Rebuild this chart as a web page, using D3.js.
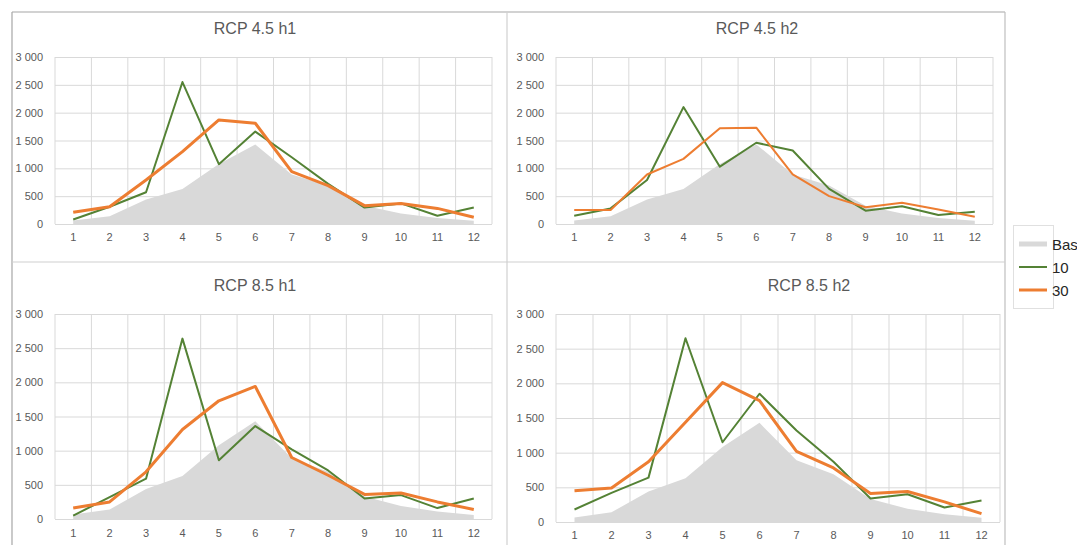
<!DOCTYPE html>
<html>
<head>
<meta charset="utf-8">
<script src="https://cdn.jsdelivr.net/npm/d3@7"></script>
<style>
  html, body { margin: 0; padding: 0; background: #fff; overflow: hidden; }
  svg { display: block; font-family: "Liberation Sans", Arial, sans-serif; }
</style>
</head>
<body>
<svg id="chart" width="1077" height="545"></svg>
<script>
// ---- data ----
const months = [1, 2, 3, 4, 5, 6, 7, 8, 9, 10, 11, 12];
const yTicks = [0, 500, 1000, 1500, 2000, 2500, 3000];
const seriesNames = ["Baseline", "10", "30"];
const panelTitles = ["RCP 4.5 h1", "RCP 4.5 h2", "RCP 8.5 h1", "RCP 8.5 h2"];

const baseline = [65, 140, 440, 630, 1080, 1430, 890, 690, 330, 190, 110, 60];

const rcp45h1_10 = [80, 310, 570, 2550, 1075, 1660, 1200, 720, 295, 370, 148, 295];
const rcp45h1_30 = [210, 310, 790, 1300, 1870, 1810, 940, 690, 330, 370, 280, 120];

const rcp45h2_10 = [150, 280, 790, 2100, 1030, 1460, 1320, 630, 240, 320, 160, 220];
const rcp45h2_30 = [250, 250, 890, 1170, 1720, 1730, 890, 500, 300, 380, 260, 130];

const rcp85h1_10 = [50, 320, 590, 2640, 860, 1360, 1020, 710, 300, 350, 160, 300];
const rcp85h1_30 = [160, 250, 690, 1310, 1730, 1940, 900, 640, 360, 380, 250, 140];

const rcp85h2_10 = [180, 420, 640, 2650, 1150, 1850, 1320, 870, 340, 400, 210, 310];
const rcp85h2_30 = [450, 490, 870, 1440, 2010, 1750, 1020, 780, 410, 440, 290, 120];

const panelSeries10 = [rcp45h1_10, rcp45h2_10, rcp85h1_10, rcp85h2_10];
const panelSeries30 = [rcp45h1_30, rcp45h2_30, rcp85h1_30, rcp85h2_30];

// ---- layout ----
const colors = { base: "#d9d9d9", s10: "#548235", s30: "#ed7d31" };
const panels = [
  { plot: [55, 57, 492, 224], title: [255, 28], xLab: 241, w30: 3 },
  { plot: [556, 57, 993, 224], title: [757, 28], xLab: 241, w30: 2 },
  { plot: [55, 314, 492, 519], title: [255, 285], xLab: 537, w30: 3 },
  { plot: [556, 314, 1000, 522], title: [809, 285], xLab: 539, w30: 3 }
];

const svg = d3.select("#chart");
const fmt = v => d3.format(",")(v).replace(/,/g, " ");

// panel frames
const frame = svg.append("g");
frame.append("line").attr("x1", 12).attr("x2", 1005).attr("y1", 12).attr("y2", 12).attr("stroke", "#a6a6a6").attr("stroke-width", 1.2);
frame.append("line").attr("x1", 12).attr("x2", 12).attr("y1", 12).attr("y2", 545).attr("stroke", "#a6a6a6").attr("stroke-width", 1.2);
frame.append("line").attr("x1", 1005).attr("x2", 1005).attr("y1", 12).attr("y2", 545).attr("stroke", "#bfbfbf").attr("stroke-width", 1.2);
frame.append("line").attr("x1", 507).attr("x2", 507).attr("y1", 12).attr("y2", 545).attr("stroke", "#d0d0d0").attr("stroke-width", 1.2);
frame.append("line").attr("x1", 12).attr("x2", 1005).attr("y1", 262).attr("y2", 262).attr("stroke", "#d0d0d0").attr("stroke-width", 1.2);

panels.forEach((p, i) => {
  const [x0, y0, x1, y1] = p.plot;
  const x = d3.scaleBand().domain(months).range([x0, x1]).padding(0);
  const y = d3.scaleLinear().domain([0, 3000]).range([y1, y0]);
  const cx = d => x(d) + x.bandwidth() / 2;
  const g = svg.append("g");

  // horizontal gridlines
  g.append("g")
    .attr("transform", `translate(${x0},0)`)
    .call(d3.axisLeft(y).tickValues(yTicks).tickSize(-(x1 - x0)).tickFormat(""))
    .call(a => a.select(".domain").remove())
    .call(a => a.selectAll("line").attr("stroke", "#d9d9d9"));
  // vertical gridlines at category boundaries
  g.selectAll("line.vg").data(months.concat([null])).enter().append("line")
    .attr("x1", d => d === null ? x1 : x(d)).attr("x2", d => d === null ? x1 : x(d))
    .attr("y1", y0).attr("y2", y1)
    .attr("stroke", "#d9d9d9");

  // y tick labels
  g.append("g")
    .attr("transform", `translate(${x0 - 12},0)`)
    .call(d3.axisLeft(y).tickValues(yTicks).tickSize(0).tickFormat(fmt))
    .call(a => a.select(".domain").remove())
    .call(a => a.selectAll("text").attr("fill", "#595959").attr("font-size", 11)
      .attr("font-family", "'Liberation Sans', Arial, sans-serif").attr("x", 0));

  // x tick labels
  g.append("g")
    .attr("transform", `translate(0,${p.xLab - 8})`)
    .call(d3.axisBottom(x).tickSize(0).tickFormat(d => d))
    .call(a => a.select(".domain").remove())
    .call(a => a.selectAll("text").attr("fill", "#595959").attr("font-size", 11)
      .attr("font-family", "'Liberation Sans', Arial, sans-serif").attr("dy", "0.71em").attr("y", 0));

  // baseline area
  const area = d3.area().x((d, j) => cx(months[j])).y0(y(0)).y1(d => y(d));
  g.append("path").datum(baseline).attr("d", area).attr("fill", colors.base);

  const line = d3.line().x((d, j) => cx(months[j])).y(d => y(d));
  g.append("path").datum(panelSeries10[i]).attr("d", line)
    .attr("fill", "none").attr("stroke", colors.s10).attr("stroke-width", 2).attr("stroke-linejoin", "round");
  g.append("path").datum(panelSeries30[i]).attr("d", line)
    .attr("fill", "none").attr("stroke", colors.s30).attr("stroke-width", p.w30).attr("stroke-linejoin", "round");

  // title
  g.append("text").attr("x", p.title[0]).attr("y", p.title[1]).attr("text-anchor", "middle")
    .attr("dominant-baseline", "central").attr("font-size", 16).attr("fill", "#595959")
    .text(panelTitles[i]);
});

// legend (the reference crops the first entry at the window's right edge)
const lg = svg.append("g");
lg.append("rect").attr("x", 1013.5).attr("y", 225.5).attr("width", 40).attr("height", 83)
  .attr("fill", "#fff").attr("stroke", "#e0e0e0");
const legendY = d3.scalePoint().domain(seriesNames).range([244, 290]);
const legendStyle = { "Baseline": [colors.base, 5], "10": [colors.s10, 2], "30": [colors.s30, 3] };
seriesNames.forEach(n => {
  lg.append("line").attr("x1", 1019).attr("x2", 1047).attr("y1", legendY(n)).attr("y2", legendY(n))
    .attr("stroke", legendStyle[n][0]).attr("stroke-width", legendStyle[n][1]);
  lg.append("text").attr("x", 1052).attr("y", legendY(n)).attr("dominant-baseline", "central")
    .attr("font-size", 15).attr("fill", "#262626").text(n);
});
</script>
</body>
</html>
